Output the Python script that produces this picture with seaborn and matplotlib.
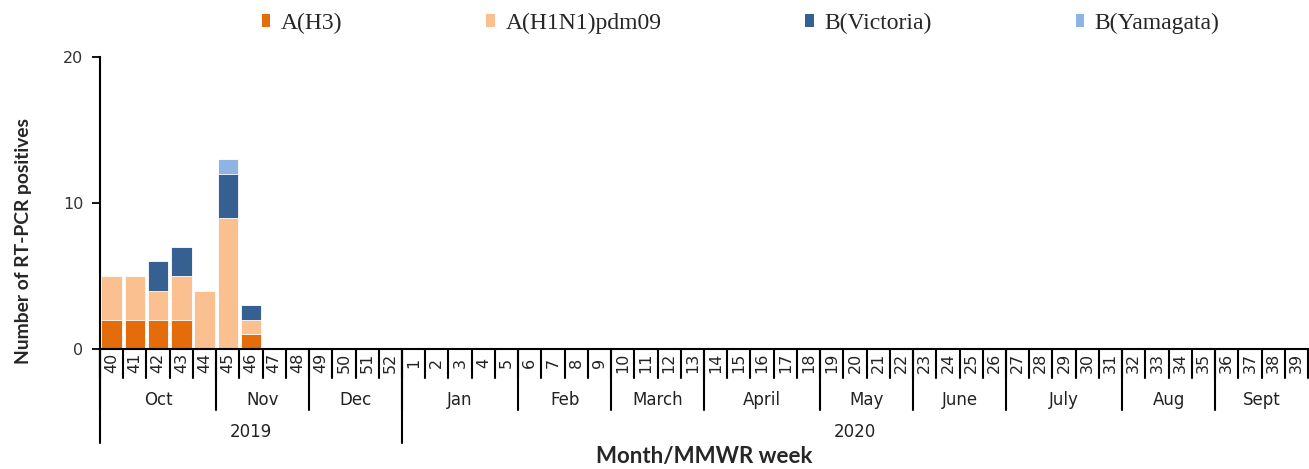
import numpy as np
import pandas as pd
import matplotlib
matplotlib.use("Agg")
import matplotlib.pyplot as plt
import matplotlib.transforms as mtransforms
from matplotlib.patches import Patch
import seaborn as sns

# Data
weeks = [40, 41, 42, 43, 44, 45, 46, 47, 48, 49, 50, 51, 52,
         1, 2, 3, 4, 5, 6, 7, 8, 9, 10, 11, 12, 13, 14, 15, 16, 17, 18, 19, 20,
         21, 22, 23, 24, 25, 26, 27, 28, 29, 30, 31, 32, 33, 34, 35, 36, 37, 38, 39]
h3 = [2, 2, 2, 2, 0, 0, 1, 0, 0, 0, 0, 0, 0,
      0, 0, 0, 0, 0, 0, 0, 0, 0, 0, 0, 0, 0, 0, 0, 0, 0, 0, 0, 0,
      0, 0, 0, 0, 0, 0, 0, 0, 0, 0, 0, 0, 0, 0, 0, 0, 0, 0, 0]
h1n1 = [3, 3, 2, 3, 4, 9, 1, 0, 0, 0, 0, 0, 0,
        0, 0, 0, 0, 0, 0, 0, 0, 0, 0, 0, 0, 0, 0, 0, 0, 0, 0, 0, 0,
        0, 0, 0, 0, 0, 0, 0, 0, 0, 0, 0, 0, 0, 0, 0, 0, 0, 0, 0]
victoria = [0, 0, 2, 2, 0, 3, 1, 0, 0, 0, 0, 0, 0,
            0, 0, 0, 0, 0, 0, 0, 0, 0, 0, 0, 0, 0, 0, 0, 0, 0, 0, 0, 0,
            0, 0, 0, 0, 0, 0, 0, 0, 0, 0, 0, 0, 0, 0, 0, 0, 0, 0, 0]
yamagata = [0, 0, 0, 0, 0, 1, 0, 0, 0, 0, 0, 0, 0,
            0, 0, 0, 0, 0, 0, 0, 0, 0, 0, 0, 0, 0, 0, 0, 0, 0, 0, 0, 0,
            0, 0, 0, 0, 0, 0, 0, 0, 0, 0, 0, 0, 0, 0, 0, 0, 0, 0, 0]
months = ["Oct", "Nov", "Dec", "Jan", "Feb", "March", "April", "May", "June", "July", "Aug", "Sept"]
month_weeks = [5, 4, 4, 5, 4, 4, 5, 4, 4, 5, 4, 4]
years = ["2019", "2020"]
year_weeks = [13, 39]

labels = ["A(H3)", "A(H1N1)pdm09", "B(Victoria)", "B(Yamagata)"]
colors = ["#E46C0A", "#FAC090", "#376092", "#8DB4E2"]

# Stacked totals
df = pd.DataFrame({"week": [str(w) for w in weeks]})
df["A(H3)"] = h3
df["A(H1N1)pdm09"] = df["A(H3)"] + h1n1
df["B(Victoria)"] = df["A(H1N1)pdm09"] + victoria
df["B(Yamagata)"] = df["B(Victoria)"] + yamagata
order = df["week"].tolist()

sns.set_style("white")
plt.rcParams["font.family"] = ["DejaVu Sans"]

W, H = 1309, 469
fig = plt.figure(figsize=(W / 100, H / 100), dpi=100)
ax = fig.add_axes([100 / W, 1 - 349 / H, 1208 / W, 292 / H])

for lab, col in reversed(list(zip(labels, colors))):
	sns.barplot(data=df, x="week", y=lab, order=order, color=col, saturation=1,
		width=0.88, edgecolor="white", linewidth=0.6, ax=ax)

ax.set_xlim(-0.5, len(weeks) - 0.5)
ax.set_ylim(0, 20)
ax.set_yticks([0, 10, 20])
ax.set_xticks([])
ax.set_xlabel("")
ax.spines["top"].set_visible(False)
ax.spines["right"].set_visible(False)
for s in ["left", "bottom"]:
	ax.spines[s].set_color("black")
	ax.spines[s].set_linewidth(1.5)
ax.tick_params(axis="y", left=True, length=6, width=1.3, color="black",
	labelsize=11.5, labelcolor="#333333", pad=6)
ax.set_ylabel("Number of RT-PCR positives", fontsize=13.9, fontweight="bold",
	family=["Lato", "DejaVu Sans"])
ax.yaxis.set_label_coords(-68 / 1208, 108 / 292)

# Multi-level x axis
trans = mtransforms.blended_transform_factory(ax.transData, ax.transAxes)
y_week, y_month, y_year = -29 / 292, -61 / 292, -94 / 292
for i, w in enumerate(weeks):
	ax.text(i, -14 / 292, str(w), transform=trans, rotation=90, ha="center",
		va="center", fontsize=11.5, color="#222222")
for b in range(len(weeks) + 1):
	ax.plot([b - 0.5, b - 0.5], [0, y_week], transform=trans, clip_on=False,
		color="black", lw=1.5)

start = 0
for m, n in zip(months, month_weeks):
	ax.text(start + n / 2 - 0.5, -51 / 292, m, transform=trans, ha="center",
		va="center", fontsize=12, color="#222222")
	ax.plot([start - 0.5, start - 0.5], [0, y_month], transform=trans,
		clip_on=False, color="black", lw=1.5)
	start += n

start = 0
for yr, n in zip(years, year_weeks):
	ax.text(start + n / 2 - 0.5, -83 / 292, yr, transform=trans, ha="center",
		va="center", fontsize=12, color="#222222")
	ax.plot([start - 0.5, start - 0.5], [0, y_year], transform=trans,
		clip_on=False, color="black", lw=1.5)
	start += n

fig.text(704 / W, 1 - 456 / H, "Month/MMWR week", ha="center", va="center",
	fontsize=16, fontweight="bold", family=["Lato", "DejaVu Sans"])

handles = [Patch(facecolor=c, edgecolor="none", label=l) for l, c in zip(labels, colors)]
fig.legend(handles=handles, loc="upper left", bbox_to_anchor=(262 / W, 1 - 13 / H),
	ncol=4, frameon=False, prop={"family": "Liberation Serif", "size": 17},
	handlelength=0.35, handleheight=0.45, handletextpad=0.45, columnspacing=6.1,
	borderpad=0, borderaxespad=0)

fig.savefig("out.png", dpi=100)
